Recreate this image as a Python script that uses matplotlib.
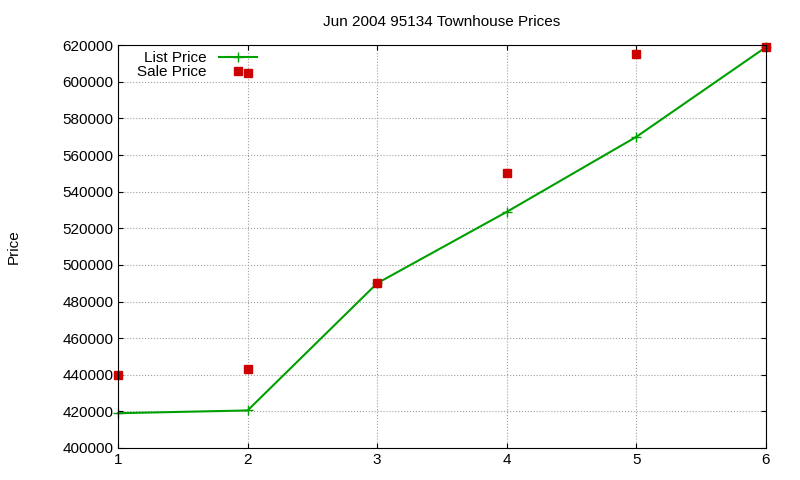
import matplotlib
matplotlib.use("Agg")
import matplotlib.pyplot as plt
plt.rcParams['font.family'] = ['Liberation Sans', 'DejaVu Sans']

list_x = [1, 2, 3, 4, 5, 6]
list_price = [419000, 420500, 490000, 529000, 570000, 619000]
sale_x = [1, 2, 2, 3, 4, 5, 6]
sale_price = [440000, 605000, 443000, 490000, 550000, 615000, 619000]

fig = plt.figure(figsize=(8, 4.8), dpi=100)
ax = fig.add_axes([0.1475, 0.0667, 0.81, 0.839])
ax.plot(list_x, list_price, color="#00a000", marker="+", markersize=7, lw=1.5, label="List Price", clip_on=False)
ax.plot(sale_x, sale_price, ls="none", marker="s", color="#cc0000", markersize=6, label="Sale Price", clip_on=False)
ax.set_xlim(1, 6)
ax.set_ylim(400000, 620000)
ax.set_yticks(range(400000, 620001, 20000))
ax.set_xticks(range(1, 7))
ax.grid(True, color="#a0a0a0", ls=":", lw=0.8)
ax.tick_params(direction="in", labelsize=11, top=True, right=True)
ax.set_title("Jun 2004 95134 Townhouse Prices", fontsize=11, pad=14)
ax.set_ylabel("Price", fontsize=11, labelpad=30)
leg = ax.legend(loc="upper left", markerfirst=False, frameon=False, fontsize=11,
                borderaxespad=0.0, handlelength=2.5, labelspacing=0.0,
                bbox_to_anchor=(0.02, 1.0))
for t in leg.get_texts():
    t.set_ha("right")
fig.savefig("out.png")
